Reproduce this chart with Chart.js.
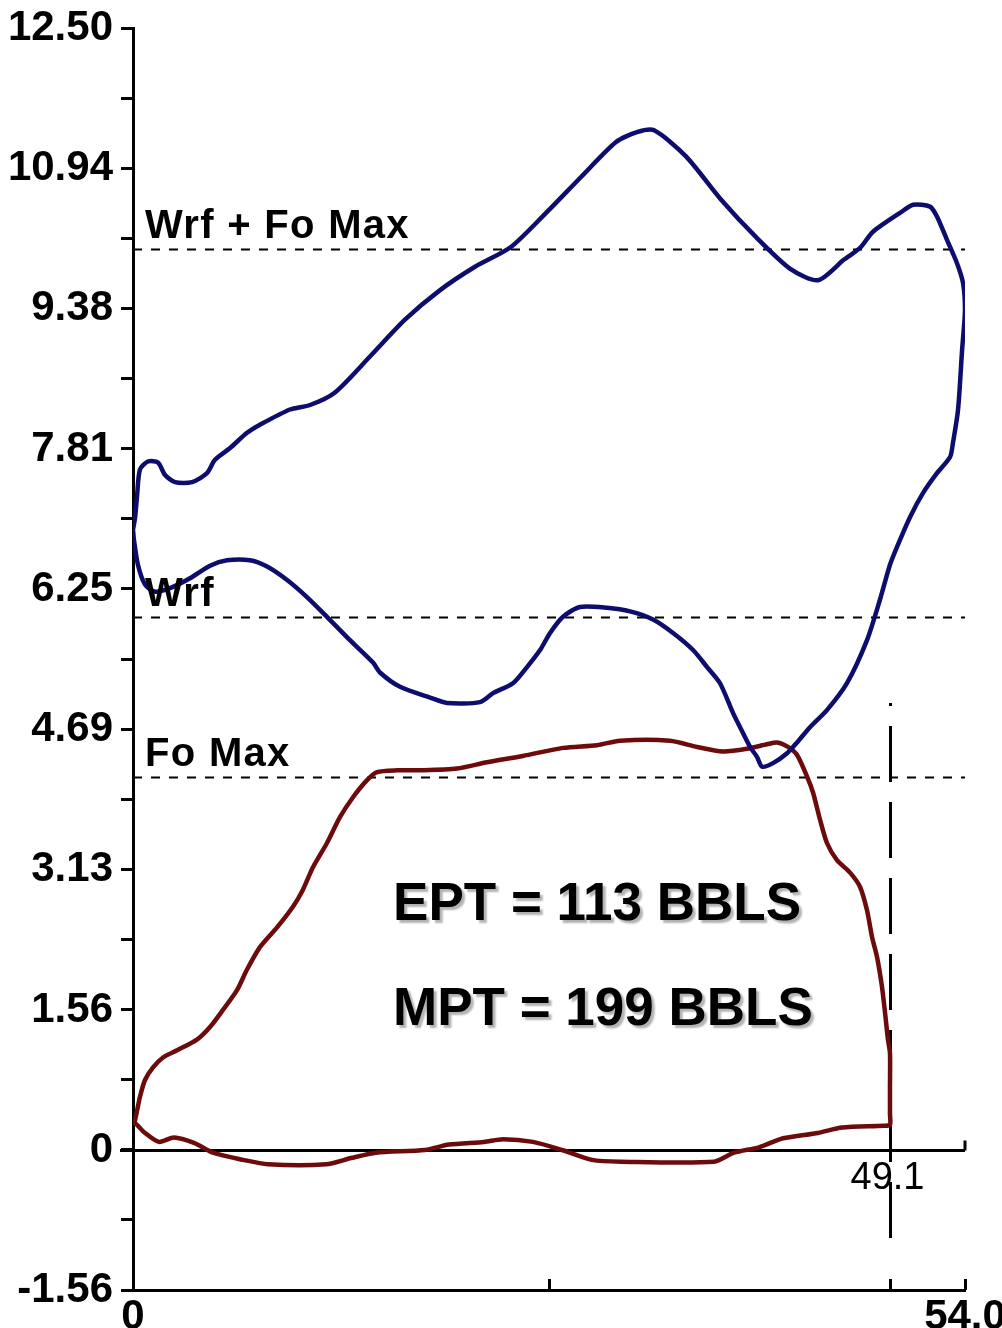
<!DOCTYPE html>
<html>
<head>
<meta charset="utf-8">
<script src="https://cdn.jsdelivr.net/npm/chart.js@4/dist/chart.umd.min.js"></script>
<style>
  html, body { margin: 0; padding: 0; background: #fff; }
  #wrap { width: 1002px; height: 1328px; }
</style>
</head>
<body>
<div id="wrap"><canvas id="pumpChart" width="1002" height="1328"></canvas></div>
<script>
// Wrf loop (blue) and Fo loop (red)
const blueX = [0, 0.13, 0.26, 0.45, 0.97, 1.62, 2.08, 2.73, 3.83, 4.80, 5.32, 6.30, 7.40, 8.24, 10.19, 11.49, 13.11, 15.38, 17.65, 19.93,
    22.20, 24.53, 26.81, 29.08, 31.35, 32.71, 33.82, 35.89, 38.16, 40.44, 42.71, 44.46, 46.15, 47.19, 48.03, 49.78, 50.63, 51.73, 52.18, 52.83,
    53.48, 53.87, 54.00, 53.81, 53.55, 53.22, 53.03, 52.18, 51.28, 50.43, 49.59, 49.13, 48.48, 47.64, 46.34, 45.04, 43.94, 43.10, 42.45, 41.54,
    40.83, 40.50, 40.05, 39.40, 38.94, 38.10, 37.26, 36.35, 35.05, 33.75, 32.26, 30.77, 29.01, 27.91, 27.07, 26.42, 25.57, 24.66, 23.37, 22.52,
    20.38, 19.28, 17.33, 16.03, 15.58, 14.08, 12.59, 11.29, 10.00, 8.70, 7.59, 6.10, 5.00, 3.70, 2.40, 1.43, 0.78, 0.32, 0.06, 0];
const blueY = [6.91, 7.04, 7.28, 7.58, 7.67, 7.66, 7.52, 7.44, 7.44, 7.54, 7.69, 7.82, 7.99, 8.08, 8.25, 8.30, 8.44, 8.84, 9.25, 9.58,
    9.84, 10.06, 10.44, 10.84, 11.23, 11.34, 11.36, 11.07, 10.59, 10.17, 9.81, 9.69, 9.92, 10.05, 10.23, 10.44, 10.53, 10.51, 10.40, 10.14,
    9.88, 9.66, 9.36, 8.91, 8.25, 7.88, 7.72, 7.54, 7.32, 7.05, 6.72, 6.52, 6.13, 5.68, 5.20, 4.90, 4.71, 4.54, 4.42, 4.31,
    4.27, 4.38, 4.49, 4.71, 4.87, 5.20, 5.38, 5.57, 5.76, 5.91, 6.00, 6.04, 6.05, 5.94, 5.76, 5.57, 5.38, 5.20, 5.09, 4.99,
    4.98, 5.04, 5.16, 5.32, 5.43, 5.68, 5.94, 6.16, 6.35, 6.50, 6.57, 6.57, 6.51, 6.37, 6.26, 6.22, 6.30, 6.52, 6.80, 6.91];

const redX = [0, 0.13, 0.45, 0.78, 1.30, 1.95, 2.86, 4.15, 5.00, 5.84, 6.75, 7.40, 8.24, 9.35, 10.38, 11.03, 11.68, 12.59, 13.44, 14.28,
    15.19, 15.84, 17.14, 18.63, 21.03, 22.98, 25.31, 27.91, 30.12, 31.61, 34.85, 36.61, 38.29, 39.85, 41.15, 41.80, 42.51, 43.10, 43.75, 44.14,
    44.59, 45.04, 45.69, 46.54, 47.19, 47.64, 47.97, 48.29, 48.61, 48.81, 49.00, 49.13, 49.13, 49.13, 49.13, 48.70, 46.02, 44.46, 42.19, 40.63,
    39.01, 37.71, 31.67, 29.79, 27.84, 25.96, 24.02, 22.78, 20.51, 18.95, 15.77, 14.15, 12.53, 8.76, 7.14, 5.19, 3.96, 2.66, 1.69, 0.78, 0.13, 0];
const redY = [0.28, 0.33, 0.59, 0.78, 0.92, 1.03, 1.11, 1.23, 1.37, 1.56, 1.78, 2.01, 2.26, 2.48, 2.71, 2.90, 3.15, 3.42, 3.71, 3.93,
    4.12, 4.21, 4.23, 4.23, 4.25, 4.32, 4.39, 4.48, 4.51, 4.56, 4.56, 4.49, 4.44, 4.47, 4.52, 4.54, 4.49, 4.40, 4.16, 3.98,
    3.68, 3.42, 3.23, 3.09, 2.93, 2.67, 2.37, 2.15, 1.82, 1.53, 1.23, 1.08, 0.70, 0.40, 0.28, 0.27, 0.25, 0.19, 0.13, 0.03,
    -0.03, -0.13, -0.13, -0.11, 0, 0.09, 0.12, 0.09, 0.06, 0, -0.03, -0.09, -0.16, -0.16, -0.11, -0.03, 0.08, 0.14, 0.09, 0.19, 0.30, 0.28];

// axis ticks
const yTickValues = [-1.56, 0, 1.56, 3.13, 4.69, 6.25, 7.81, 9.38, 10.94, 12.5];
const yTickLabels = ['-1.56', '0', '1.56', '3.13', '4.69', '6.25', '7.81', '9.38', '10.94', '12.50'];
const yMinorTicks = [-0.78, 0.78, 2.345, 3.91, 5.47, 7.03, 8.595, 10.16, 11.72];
const xTickValues = [0, 54];
const xTickLabels = ['0', '54.0'];
const xMinorTicks = [27, 49.1, 54];

// reference lines
const refValues = [10.04, 5.94, 4.16];
const refLabels = ['Wrf + Fo Max', 'Wrf', 'Fo Max'];
const endX = 49.1;
const endLabel = '49.1';
const endLineRange = [-0.98, 4.98];
const notes = ['EPT = 113 BBLS', 'MPT = 199 BBLS'];

const FONT = "'Liberation Sans', Arial, sans-serif";

function toPoints(xs, ys) {
    return xs.map((x, i) => ({ x: x, y: ys[i] }));
}

const overlayPlugin = {
    id: 'overlay',
    beforeDatasetsDraw(chart) {
        const ctx = chart.ctx;
        const xs = chart.scales.x, ys = chart.scales.y;
        const left = xs.getPixelForValue(0), right = xs.getPixelForValue(54);
        ctx.save();
        // zero line
        ctx.strokeStyle = '#000';
        ctx.lineWidth = 3;
        ctx.beginPath();
        const y0 = Math.round(ys.getPixelForValue(0)) + 0.5;
        ctx.moveTo(left - 13, y0);
        ctx.lineTo(right, y0);
        ctx.moveTo(right, y0 - 10);
        ctx.lineTo(right, y0);
        ctx.stroke();
        // small upward ticks on bottom axis
        const yb = ys.getPixelForValue(-1.56);
        ctx.beginPath();
        xMinorTicks.forEach(v => {
            const px = Math.round(xs.getPixelForValue(v)) + 0.5;
            ctx.moveTo(px, yb);
            ctx.lineTo(px, yb - 11);
        });
        ctx.stroke();
        // horizontal dashed reference lines
        ctx.lineWidth = 2;
        ctx.setLineDash([9, 9]);
        refValues.forEach(v => {
            const py = Math.round(ys.getPixelForValue(v)) + 0.5;
            ctx.beginPath();
            ctx.moveTo(left, py);
            ctx.lineTo(right, py);
            ctx.stroke();
        });
        // vertical dashed line at end of pumping
        ctx.lineWidth = 3;
        ctx.setLineDash([56, 20]);
        const vx = Math.round(xs.getPixelForValue(endX)) + 0.5;
        ctx.beginPath();
        ctx.moveTo(vx, ys.getPixelForValue(endLineRange[0]));
        ctx.lineTo(vx, ys.getPixelForValue(endLineRange[1]));
        ctx.stroke();
        ctx.restore();
    },
    afterDatasetsDraw(chart) {
        const ctx = chart.ctx;
        const xs = chart.scales.x, ys = chart.scales.y;
        ctx.save();
        ctx.fillStyle = '#000';
        ctx.textAlign = 'left';
        ctx.textBaseline = 'alphabetic';
        ctx.font = "bold 40px 'Liberation Sans', Arial, sans-serif";
        ctx.letterSpacing = '1.3px';
        const lx = xs.getPixelForValue(0) + 12;
        refValues.forEach((v, i) => {
            ctx.fillText(refLabels[i], lx, ys.getPixelForValue(v) - 11);
        });
        ctx.letterSpacing = '0px';
        // 49.1 label
        ctx.font = "38px 'Liberation Sans', Arial, sans-serif";
        ctx.textAlign = 'center';
        ctx.textBaseline = 'top';
        ctx.fillText(endLabel, xs.getPixelForValue(endX) - 2, ys.getPixelForValue(0) + 10);
        // EPT / MPT notes
        ctx.font = "bold 53px 'Liberation Sans', Arial, sans-serif";
        ctx.textAlign = 'left';
        ctx.textBaseline = 'alphabetic';
        ctx.shadowColor = 'rgba(0,0,0,0.3)';
        ctx.shadowOffsetX = 3;
        ctx.shadowOffsetY = 3;
        ctx.shadowBlur = 2;
        const nx = xs.getPixelForValue(16.88);
        ctx.fillText(notes[0], nx, ys.getPixelForValue(2.56));
        ctx.fillText(notes[1], nx, ys.getPixelForValue(1.39));
        ctx.restore();
    }
};

const ctx = document.getElementById('pumpChart').getContext('2d');
new Chart(ctx, {
    type: 'scatter',
    data: {
        datasets: [
            {
                label: 'Wrf',
                data: toPoints(blueX, blueY),
                showLine: true,
                borderColor: '#0e0c6c',
                borderWidth: 4.5,
                pointRadius: 0,
                tension: 0.25
            },
            {
                label: 'Fo',
                data: toPoints(redX, redY),
                showLine: true,
                borderColor: '#6c0a0c',
                borderWidth: 4.5,
                pointRadius: 0,
                tension: 0.25
            }
        ]
    },
    options: {
        responsive: false,
        animation: false,
        layout: { padding: { top: 28, right: 37, left: 0, bottom: 0 } },
        plugins: {
            legend: { display: false },
            tooltip: { enabled: false }
        },
        scales: {
            x: {
                type: 'linear',
                min: 0,
                max: 54,
                afterBuildTicks: s => { s.ticks = xTickValues.map(v => ({ value: v })); },
                afterFit: s => { s.height = 38; s.paddingLeft = 0; s.paddingRight = 0; },
                ticks: {
                    autoSkip: false,
                    maxRotation: 0,
                    padding: 2,
                    color: '#000',
                    font: { family: FONT, size: 42, weight: 'bold' },
                    callback: (v) => {
                        const i = xTickValues.indexOf(v);
                        return i >= 0 ? xTickLabels[i] : '';
                    }
                },
                grid: { drawOnChartArea: false, drawTicks: false },
                border: { color: '#000', width: 3 }
            },
            y: {
                type: 'linear',
                min: -1.56,
                max: 12.5,
                afterBuildTicks: s => {
                    s.ticks = yTickValues.concat(yMinorTicks).sort((a, b) => a - b).map(v => ({ value: v }));
                },
                afterFit: s => { s.width = 133; s.paddingTop = 0; s.paddingBottom = 0; },
                ticks: {
                    autoSkip: false,
                    padding: 8,
                    color: '#000',
                    font: { family: FONT, size: 42, weight: 'bold' },
                    callback: (v) => {
                        const i = yTickValues.indexOf(v);
                        return i >= 0 ? yTickLabels[i] : '';
                    }
                },
                grid: { drawOnChartArea: false, drawTicks: true, tickLength: 12, tickColor: '#000', tickWidth: 3 },
                border: { color: '#000', width: 3 }
            }
        }
    },
    plugins: [overlayPlugin]
});
</script>
</body>
</html>
